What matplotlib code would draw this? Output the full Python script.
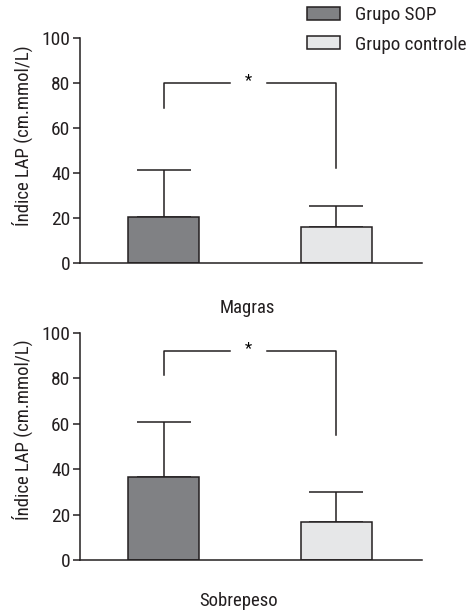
import numpy as np
import matplotlib
matplotlib.use('Agg')
from matplotlib import pyplot as plt
import matplotlib.patches as patches

plt.rcParams['font.family'] = ['Roboto Condensed', 'DejaVu Sans']

# data
groups = ['Grupo SOP', 'Grupo controle']
panels = ['Magras', 'Sobrepeso']
means = [[20.5, 16.0], [36.5, 16.8]]
sd_up = [[21.0, 9.5], [24.5, 13.2]]
# significance bracket: height, left leg bottom, right leg bottom
bracket_y = [80, 92]
leg_left = [69, 81.5]
leg_right = [42, 55]
yticks = [0, 20, 40, 60, 80, 100]
ylabel = 'Índice LAP (cm.mmol/L)'

dark = '#808184'
light = '#e6e7e8'
edge = '#231f20'

W, H = 469, 610
fig = plt.figure(figsize=(W / 100, H / 100), dpi=100)

# axes boxes in pixels (left, y of 0, y of 100, right)
boxes = [(80, 263, 38, 422), (80, 560, 333, 422)]
label_xy = [(247, 308), (239, 601)]
ylab_y = [136, 430]

x = np.arange(2)
for i in range(2):
	l, b0, t100, r = boxes[i]
	ax = fig.add_axes([l / W, 1 - b0 / H, (r - l) / W, (b0 - t100) / H])
	bars = ax.bar(x, means[i], width=0.413, color=[dark, light],
		edgecolor=edge, linewidth=1.1, zorder=2)
	ax.errorbar(x, means[i], yerr=[np.zeros(2), sd_up[i]], fmt='none',
		ecolor=edge, elinewidth=1.1, capsize=19.5, capthick=1.1, zorder=1)
	# bracket with asterisk
	ax.plot([0, 0, 0.385], [leg_left[i], bracket_y[i], bracket_y[i]],
		color=edge, lw=1.1)
	ax.plot([0.598, 1, 1], [bracket_y[i], bracket_y[i], leg_right[i]],
		color=edge, lw=1.1)
	ax.text(0.49, bracket_y[i] + 1, '*', ha='center', va='center', fontsize=12)
	ax.set_xlim(-0.487, 1.499)
	ax.set_ylim(0, 100)
	ax.set_yticks(yticks)
	ax.set_xticks([])
	ax.spines['top'].set_visible(False)
	ax.spines['right'].set_visible(False)
	for s in ['left', 'bottom']:
		ax.spines[s].set_color(edge)
		ax.spines[s].set_linewidth(1.1)
	ax.tick_params(axis='y', length=5, width=1.1, color=edge,
		labelsize=14, pad=2, labelcolor=edge)
	fig.text(label_xy[i][0] / W, 1 - label_xy[i][1] / H, panels[i],
		ha='center', va='center', fontsize=13.5, color=edge)
	fig.text(22 / W, 1 - ylab_y[i] / H, ylabel, rotation=90, ha='center',
		va='center', fontsize=13.5, color=edge)

handles = [patches.Patch(facecolor=dark, edgecolor=edge, linewidth=1.1),
	patches.Patch(facecolor=light, edgecolor=edge, linewidth=1.1)]
leg = fig.legend(handles, groups, loc='upper left',
	bbox_to_anchor=(307 / W, 1 - 6 / H), frameon=False, fontsize=13.8,
	handlelength=1.72, handleheight=0.64, handletextpad=0.8,
	labelspacing=0.6, borderaxespad=0, borderpad=0)
for t in leg.get_texts():
	t.set_color(edge)

fig.savefig('out.png', dpi=100)
